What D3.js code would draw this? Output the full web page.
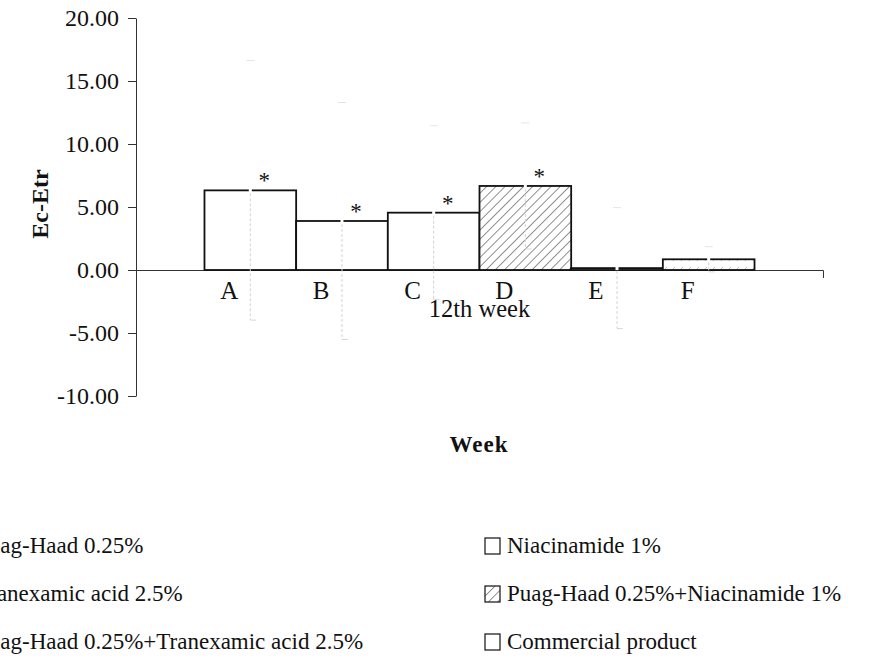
<!DOCTYPE html>
<html>
<head>
<meta charset="utf-8">
<script src="https://cdn.jsdelivr.net/npm/d3@7"></script>
<style>
	body { margin: 0; background: #fff; }
	svg { display: block; font-family: "Liberation Serif", "Times New Roman", serif; }
</style>
</head>
<body>
<div id="chart"></div>
<script>
// data
const groups = ["12th week"];
const series = ["A", "B", "C", "D", "E", "F"];
const values = [6.32, 3.89, 4.55, 6.67, 0.15, 0.85];
const errors = [10.3, 9.4, 6.9, 5.0, 4.8, 1.0];
const significant = [true, true, true, true, false, false];
const fills = ["plain", "plain", "plain", "hatch", "plain", "dots"];
const y_ticks = [-10, -5, 0, 5, 10, 15, 20];
const legend_left = ["Puag-Haad 0.25%", "Tranexamic acid 2.5%", "Puag-Haad 0.25%+Tranexamic acid 2.5%"];
const legend_right = ["Niacinamide 1%", "Puag-Haad 0.25%+Niacinamide 1%", "Commercial product"];
const legend_left_fill = ["plain", "plain", "plain"];
const legend_right_fill = ["plain", "hatch", "plain"];

const width = 886, height = 659;
const plot = { left: 136, right: 823, top: 18, bottom: 396 };

const svg = d3.select("#chart")
	.append("svg")
	.attr("width", width)
	.attr("height", height);

const defs = svg.append("defs");

const hatch = defs.append("pattern")
	.attr("id", "hatch")
	.attr("patternUnits", "userSpaceOnUse")
	.attr("width", 6.5)
	.attr("height", 6.5)
	.attr("patternTransform", "rotate(45)");
hatch.append("rect").attr("width", 6.5).attr("height", 6.5).attr("fill", "#fff");
hatch.append("line")
	.attr("x1", 0).attr("y1", 0).attr("x2", 0).attr("y2", 6.5)
	.attr("stroke", "#222").attr("stroke-width", 1);

const dots = defs.append("pattern")
	.attr("id", "dots")
	.attr("patternUnits", "userSpaceOnUse")
	.attr("width", 8)
	.attr("height", 8);
dots.append("rect").attr("width", 8).attr("height", 8).attr("fill", "#fff");
dots.append("line")
	.attr("x1", 2).attr("y1", 5).attr("x2", 4).attr("y2", 3)
	.attr("stroke", "#aaa").attr("stroke-width", 0.8);

function fill_of(kind) {
	if (kind === "hatch") return "url(#hatch)";
	if (kind === "dots") return "url(#dots)";
	return "#fff";
}

const y = d3.scaleLinear()
	.domain([-10, 20])
	.range([plot.bottom, plot.top]);

const x0 = d3.scaleBand()
	.domain(groups)
	.range([plot.left, plot.right])
	.paddingInner(0)
	.paddingOuter(0.1245);

const x1 = d3.scaleBand()
	.domain(series)
	.range([0, x0.bandwidth()])
	.padding(0);

// y axis, plain hyphen for negatives
svg.append("g")
	.attr("transform", `translate(${plot.left},0)`)
	.call(d3.axisLeft(y).tickValues(y_ticks).tickFormat((d) => d.toFixed(2)).tickSize(8).tickSizeOuter(0).tickPadding(9))
	.call((g) => g.selectAll("text")
		.attr("font-size", 24)
		.attr("font-family", "Liberation Serif")
		.attr("fill", "#111"))
	.call((g) => g.selectAll("line, path").attr("stroke", "#333"));

// x axis at zero
const xaxis = svg.append("g")
	.attr("transform", `translate(0,${y(0)})`)
	.call(d3.axisBottom(x0).tickSize(0).tickSizeOuter(8).tickPadding(0));
xaxis.select("path").attr("stroke", "#333");
xaxis.selectAll("text")
	.attr("font-size", 24.5)
	.attr("font-family", "Liberation Serif")
	.attr("fill", "#111")
	.attr("dy", 0)
	.attr("y", 47);

const bars = svg.append("g")
	.selectAll("g")
	.data(series.map((s, i) => ({ key: s, value: values[i], err: errors[i], star: significant[i], fill: fills[i] })))
	.join("g")
	.attr("transform", (d) => `translate(${x0(groups[0]) + x1(d.key)},0)`);

bars.append("rect")
	.attr("x", 0)
	.attr("y", (d) => y(Math.max(0, d.value)))
	.attr("width", x1.bandwidth())
	.attr("height", (d) => Math.abs(y(d.value) - y(0)))
	.attr("fill", (d) => fill_of(d.fill))
	.attr("stroke", "#111")
	.attr("stroke-width", 1.8);

// faint error bars: a tiny cap above, dotted grey below
bars.append("line")
	.attr("x1", x1.bandwidth() / 2 - 4)
	.attr("x2", x1.bandwidth() / 2 + 4)
	.attr("y1", (d) => y(d.value + d.err))
	.attr("y2", (d) => y(d.value + d.err))
	.attr("stroke", "#e4e4e4")
	.attr("stroke-width", 1);

bars.append("rect")
	.attr("x", x1.bandwidth() / 2 - 1.5)
	.attr("y", (d) => y(d.value) - 2)
	.attr("width", 3)
	.attr("height", 4)
	.attr("fill", "#fff");

bars.append("line")
	.attr("x1", x1.bandwidth() / 2)
	.attr("x2", x1.bandwidth() / 2)
	.attr("y1", (d) => y(d.value) + 3)
	.attr("y2", (d) => y(d.value - d.err))
	.attr("stroke", "#d4d4d4")
	.attr("stroke-width", 1)
	.attr("stroke-dasharray", "3,2");

bars.append("line")
	.attr("x1", x1.bandwidth() / 2)
	.attr("x2", x1.bandwidth() / 2 + 6)
	.attr("y1", (d) => y(d.value - d.err))
	.attr("y2", (d) => y(d.value - d.err))
	.attr("stroke", "#d8d8d8")
	.attr("stroke-width", 1);

// category letters
bars.append("text")
	.attr("x", x1.bandwidth() / 2 - 21)
	.attr("y", y(0) + 29)
	.attr("text-anchor", "middle")
	.attr("font-size", 25)
	.attr("fill", "#111")
	.text((d) => d.key);

// asterisks
bars.filter((d) => d.star)
	.append("text")
	.attr("x", x1.bandwidth() / 2 + 14)
	.attr("y", (d) => y(d.value) - 2)
	.attr("text-anchor", "middle")
	.attr("font-size", 23)
	.attr("fill", "#111")
	.text("*");

// axis titles
svg.append("text")
	.attr("transform", `translate(48,204) rotate(-90)`)
	.attr("text-anchor", "middle")
	.attr("font-size", 24)
	.attr("font-weight", "bold")
	.attr("fill", "#111")
	.text("Ec-Etr");

svg.append("text")
	.attr("x", 479)
	.attr("y", 452)
	.attr("text-anchor", "middle")
	.attr("font-size", 23)
	.attr("font-weight", "bold")
	.attr("letter-spacing", 1)
	.attr("fill", "#111")
	.text("Week");

// legend
function add_legend(labels, kinds, text_x) {
	const rows = svg.append("g")
		.selectAll("g")
		.data(labels.map((l, i) => ({ label: l, kind: kinds[i] })))
		.join("g")
		.attr("transform", (d, i) => `translate(${text_x},${553 + i * 48})`);
	rows.append("rect")
		.attr("x", -22)
		.attr("y", -15)
		.attr("width", 15)
		.attr("height", 16)
		.attr("fill", (d) => fill_of(d.kind))
		.attr("stroke", "#222")
		.attr("stroke-width", 1.3);
	rows.append("text")
		.attr("x", 0)
		.attr("y", 0)
		.attr("font-size", 23)
		.attr("fill", "#111")
		.text((d) => d.label);
}

add_legend(legend_left, legend_left_fill, -24);
add_legend(legend_right, legend_right_fill, 507);
</script>
</body>
</html>
